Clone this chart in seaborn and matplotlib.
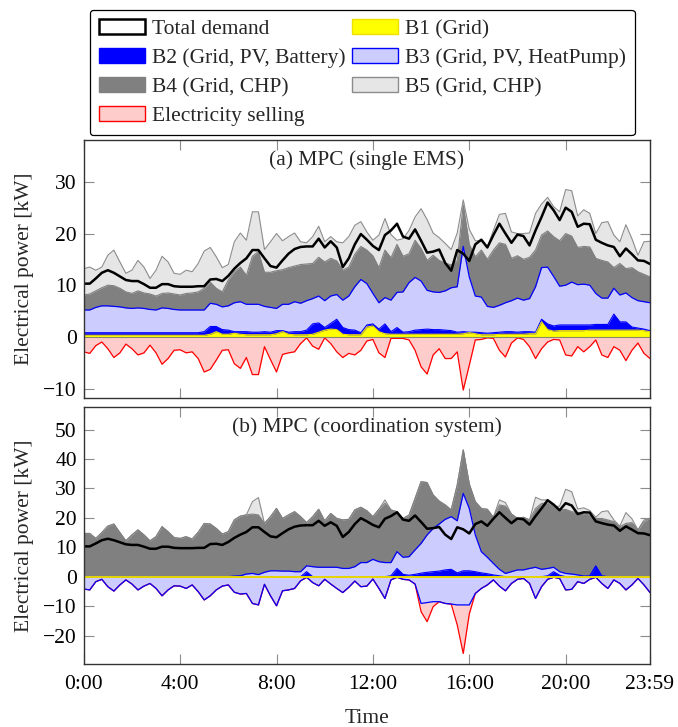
import numpy as np
import matplotlib
matplotlib.use("Agg")
import matplotlib.pyplot as plt
import seaborn as sns
from matplotlib.patches import Patch

# 15-minute steps over one day (index 0..94)
steps = np.arange(95)
tick_pos = [0, 16, 32, 48, 64, 80, 94]
tick_labels = ["0:00", "4:00", "8:00", "12:00", "16:00", "20:00", "23:59"]

total_demand = [
    10.3, 10.3, 11.3, 12.4, 12.9, 12.4, 11.7, 11.0, 10.8, 10.8,
    10.2, 9.5, 9.5, 10.2, 10.2, 9.8, 9.7, 9.7, 9.7, 9.8,
    9.8, 11.1, 11.2, 10.8, 11.8, 13.2, 14.3, 15.2, 16.8, 16.8,
    15.2, 13.7, 13.4, 14.8, 16.1, 17.0, 17.4, 17.5, 17.5, 19.0,
    17.3, 18.5, 17.3, 13.5, 15.2, 17.9, 19.9, 18.8, 17.6, 16.8,
    19.7, 20.6, 21.9, 19.4, 19.0, 20.8, 18.6, 16.3, 16.5, 16.9,
    14.3, 12.8, 16.8, 16.1, 14.7, 17.9, 18.8, 17.3, 19.7, 21.9,
    20.0, 18.2, 19.8, 19.5, 17.7, 20.6, 23.2, 26.0, 24.5, 22.6,
    25.0, 24.2, 21.3, 21.9, 21.8, 18.8, 18.2, 17.7, 17.4, 15.6,
    17.1, 16.0, 14.8, 14.7, 14.1,
]

# (a) single EMS: stacked levels of each area
a_b5_top = [
    13.2, 13.5, 12.9, 13.5, 15.8, 16.8, 14.5, 12.3, 12.9, 14.8,
    13.5, 11.3, 12.9, 15.6, 14.5, 12.3, 12.1, 12.9, 12.6, 14.2,
    16.6, 17.3, 15.5, 13.4, 14.0, 18.4, 20.1, 18.7, 24.2, 24.2,
    16.9, 18.4, 20.0, 18.6, 19.4, 20.1, 18.4, 18.2, 19.4, 21.4,
    18.4, 19.4, 18.4, 18.2, 19.4, 21.6, 22.3, 20.3, 18.7, 19.7,
    22.9, 19.8, 18.7, 19.0, 20.6, 23.2, 24.8, 22.7, 20.1, 19.2,
    18.1, 16.9, 20.1, 26.5, 20.8, 18.6, 18.6, 17.4, 20.6, 23.7,
    23.9, 20.3, 20.0, 20.0, 20.1, 23.9, 25.7, 27.0, 25.2, 24.2,
    28.5, 28.3, 23.4, 24.6, 23.9, 20.0, 22.1, 22.3, 19.7, 18.4,
    21.7, 19.0, 15.8, 18.4, 18.5,
]
a_b4_top = [
    8.1, 8.3, 8.9, 9.5, 10.0, 9.9, 9.4, 8.7, 8.4, 8.9,
    8.5, 8.3, 7.9, 8.4, 8.5, 8.3, 8.1, 8.4, 8.5, 8.7,
    9.4, 10.6, 9.4, 8.7, 11.0, 12.6, 13.5, 11.9, 15.6, 16.5,
    12.5, 12.5, 12.8, 13.0, 13.4, 13.7, 14.0, 14.1, 14.2, 15.4,
    14.5, 15.2, 14.7, 12.9, 13.5, 16.0, 17.5, 16.8, 15.7, 13.4,
    16.8, 15.3, 17.9, 15.6, 16.1, 18.7, 17.1, 14.8, 15.8, 14.8,
    14.3, 13.9, 14.8, 25.5, 17.9, 15.5, 16.8, 15.0, 16.8, 18.2,
    17.9, 15.2, 15.7, 15.0, 15.4, 16.8, 19.7, 20.5, 19.4, 18.6,
    20.0, 19.5, 17.3, 17.5, 17.4, 15.2, 14.8, 14.5, 13.4, 14.2,
    13.2, 13.4, 12.6, 12.1, 11.6,
]
a_b3_top = [
    5.2, 5.2, 5.7, 6.0, 6.0, 5.9, 5.8, 5.6, 5.5, 5.6,
    5.5, 5.3, 5.2, 5.6, 5.5, 5.3, 5.2, 5.2, 5.2, 5.2,
    5.2, 6.5, 6.3, 5.8, 6.0, 6.6, 6.8, 6.3, 6.3, 6.3,
    5.9, 5.7, 5.5, 6.3, 6.3, 6.8, 6.5, 7.0, 7.4, 7.9,
    7.0, 7.9, 8.2, 7.1, 7.9, 9.7, 11.1, 10.3, 8.4, 6.6,
    7.6, 7.1, 8.6, 8.7, 10.5, 11.5, 10.8, 9.0, 8.7, 8.6,
    8.9, 9.5, 9.7, 17.5, 11.6, 7.9, 7.7, 5.9, 5.7, 6.1,
    6.6, 7.0, 7.5, 7.1, 7.4, 9.7, 13.4, 13.5, 11.7, 9.8,
    10.0, 10.6, 10.1, 10.2, 10.0, 8.4, 7.5, 7.5, 9.4, 8.1,
    8.5, 7.6, 7.0, 6.8, 6.6,
]
a_b2_top = [
    0.8, 0.8, 0.8, 0.8, 0.8, 0.8, 0.8, 0.8, 0.8, 0.8,
    0.8, 0.8, 0.8, 0.8, 0.8, 0.8, 0.8, 0.8, 0.8, 0.8,
    1.0, 2.0, 2.0, 1.4, 1.3, 1.0, 1.0, 1.0, 0.9, 0.9,
    1.0, 0.9, 1.2, 1.2, 0.9, 1.0, 1.0, 1.3, 2.5, 2.7,
    1.8, 2.6, 3.4, 1.8, 1.4, 1.3, 0.8, 2.3, 2.5, 1.5,
    2.5, 1.0, 1.8, 0.9, 1.0, 1.3, 1.4, 1.5, 1.4, 1.4,
    1.3, 1.2, 0.9, 1.0, 0.9, 0.9, 0.8, 0.7, 0.8, 0.9,
    1.0, 1.0, 0.9, 1.0, 1.0, 0.9, 3.4, 2.5, 2.1, 2.3,
    2.3, 2.3, 2.3, 2.3, 2.3, 2.4, 2.4, 2.4, 4.4, 2.9,
    2.9, 1.9, 1.7, 1.5, 1.2,
]
a_b1_top = [
    0.3, 0.3, 0.3, 0.3, 0.3, 0.3, 0.3, 0.3, 0.3, 0.3,
    0.3, 0.3, 0.3, 0.3, 0.3, 0.3, 0.3, 0.3, 0.3, 0.3,
    0.3, 0.5, 1.0, 0.5, 0.5, 0.7, 0.5, 0.4, 0.4, 0.4,
    0.4, 0.4, 0.6, 1.0, 0.5, 0.4, 0.4, 0.4, 0.5, 0.9,
    1.3, 1.5, 1.4, 0.5, 0.4, 0.4, 0.4, 1.9, 2.1, 1.0,
    0.6, 0.5, 0.5, 0.5, 0.5, 0.5, 0.5, 0.5, 0.5, 0.5,
    0.5, 0.5, 0.5, 0.6, 0.8, 0.6, 0.4, 0.4, 0.4, 0.5,
    0.5, 0.5, 0.5, 0.5, 0.6, 0.6, 2.9, 1.4, 1.1, 1.2,
    1.2, 1.2, 1.2, 1.2, 1.3, 1.3, 1.3, 1.3, 1.3, 1.3,
    1.3, 1.3, 1.3, 1.2, 1.0,
]
a_selling = [
    -2.9, -3.2, -1.7, -1.0, -2.3, -4.0, -3.1, -1.4, -2.3, -3.5,
    -3.1, -1.6, -3.1, -5.3, -4.2, -2.6, -2.5, -3.1, -2.9, -4.2,
    -6.8, -6.3, -4.5, -2.6, -2.5, -5.2, -6.1, -4.0, -7.3, -7.3,
    -1.9, -4.4, -6.8, -3.4, -3.1, -2.9, -1.3, -0.2, -1.8, -2.4,
    -0.2, -1.3, -2.9, -4.0, -3.2, -3.5, -2.6, -0.8, -0.5, -3.1,
    -4.0, -0.3, -0.3, -0.3, -0.6, -2.6, -5.8, -7.2, -3.5, -2.3,
    -4.2, -4.2, -2.9, -10.3, -5.5, -0.6, -0.5, -0.2, -0.3, -2.6,
    -3.9, -1.2, -0.2, -0.5, -1.9, -4.2, -2.3, -1.0, -0.5, -0.6,
    -3.5, -3.7, -1.9, -2.9, -1.9, -0.6, -3.5, -4.0, -1.9, -2.6,
    -4.6, -2.6, -1.2, -3.2, -4.2,
]

# (b) coordination system
b_b5_top = [
    14.7, 14.7, 13.0, 15.0, 17.2, 17.9, 15.0, 12.2, 14.2, 15.9,
    14.2, 12.2, 13.6, 17.0, 15.3, 13.3, 13.0, 13.6, 12.8, 15.1,
    18.1, 17.9, 16.4, 14.5, 15.3, 19.3, 20.6, 21.0, 25.5, 26.9,
    18.1, 20.4, 23.2, 19.8, 21.0, 22.1, 20.4, 18.4, 20.4, 22.9,
    19.0, 21.5, 19.8, 19.3, 19.5, 22.7, 23.6, 22.4, 20.4, 22.9,
    26.1, 22.7, 22.1, 19.8, 20.9, 26.6, 32.3, 32.0, 27.8, 25.7,
    24.4, 22.7, 31.2, 43.1, 31.5, 25.5, 23.2, 22.9, 20.2, 26.1,
    25.2, 21.3, 19.8, 20.2, 19.3, 27.0, 26.1, 26.1, 23.8, 24.0,
    29.7, 28.9, 23.0, 23.4, 22.5, 20.2, 22.1, 22.4, 19.3, 17.2,
    21.8, 19.7, 15.9, 19.3, 19.8,
]
b_b4_top = [
    14.7, 14.7, 13.0, 15.0, 17.2, 17.9, 15.0, 12.2, 14.2, 15.9,
    14.2, 12.2, 13.6, 17.0, 15.3, 13.3, 13.0, 13.6, 12.8, 15.1,
    18.1, 17.9, 16.4, 14.5, 15.3, 19.3, 20.6, 21.0, 21.3, 21.0,
    18.1, 20.4, 23.2, 19.8, 21.0, 22.1, 20.4, 18.4, 20.4, 22.9,
    19.0, 21.5, 19.8, 19.3, 19.5, 22.7, 23.6, 22.4, 20.4, 22.9,
    25.0, 22.7, 22.1, 19.8, 20.9, 26.6, 32.3, 32.0, 27.8, 25.7,
    24.4, 22.7, 31.2, 43.1, 31.5, 25.5, 23.2, 22.9, 20.2, 24.4,
    24.0, 21.3, 19.8, 20.2, 19.3, 23.2, 24.9, 25.1, 23.6, 22.7,
    22.9, 22.1, 21.8, 21.3, 21.0, 19.8, 19.8, 19.3, 18.7, 17.0,
    18.1, 18.4, 15.9, 18.7, 19.8,
]
b_b3_top = [
    0.0, 0.0, 0.0, 0.0, 0.0, 0.0, 0.0, 0.0, 0.0, 0.0,
    0.0, 0.0, 0.0, 0.0, 0.0, 0.0, 0.0, 0.0, 0.0, 0.0,
    0.0, 0.0, 0.0, 0.0, 0.0, 0.2, 0.3, 0.9, 1.1, 0.7,
    1.5, 2.0, 2.0, 1.9, 1.9, 1.7, 1.7, 3.7, 3.4, 3.2,
    3.2, 3.2, 3.2, 2.8, 2.8, 3.4, 4.8, 4.8, 5.9, 5.1,
    4.8, 4.8, 8.5, 6.6, 6.8, 9.1, 11.3, 14.2, 16.4, 17.9,
    19.5, 20.4, 19.0, 28.3, 23.2, 14.2, 8.5, 6.6, 4.5, 2.5,
    1.1, 1.7, 2.3, 2.3, 2.8, 3.2, 2.5, 2.8, 3.2, 1.7,
    1.1, 0.9, 0.6, 0.2, 0.2, 3.6, 0.2, 0.0, 0.0, 0.0,
    0.0, 0.0, 0.0, 0.0, 0.0,
]
b_b2_top = [
    0.0, 0.0, 0.0, 0.0, 0.0, 0.0, 0.0, 0.0, 0.0, 0.0,
    0.0, 0.0, 0.0, 0.0, 0.0, 0.0, 0.0, 0.0, 0.0, 0.0,
    0.0, 0.0, 0.0, 0.0, 0.0, 0.0, 0.0, 0.0, 0.0, 0.0,
    0.0, 0.0, 0.0, 0.0, 0.0, 0.0, 0.0, 1.7, 0.0, 0.0,
    0.0, 0.0, 0.0, 0.0, 0.0, 0.0, 0.0, 0.0, 0.0, 0.0,
    0.0, 0.3, 2.8, 0.8, 0.5, 0.8, 1.2, 1.5, 1.7, 1.9,
    2.3, 2.5, 1.3, 2.0, 2.0, 1.7, 1.3, 1.0, 0.6, 0.3,
    0.0, 0.0, 0.0, 0.0, 0.0, 0.0, 0.0, 0.3, 1.7, 0.5,
    0.0, 0.0, 0.0, 0.0, 0.2, 3.6, 0.2, 0.0, 0.0, 0.0,
    0.0, 0.0, 0.0, 0.0, 0.0,
]
b_b1_top = [0.0] * 95
b_b3_export = [
    -4.2, -4.5, -1.7, -0.9, -3.4, -4.9, -2.8, -1.1, -2.5, -4.5,
    -3.2, -2.3, -4.0, -6.5, -4.5, -3.1, -3.2, -4.0, -2.8, -5.1,
    -7.9, -6.5, -4.5, -3.2, -2.8, -5.3, -5.9, -5.7, -9.1, -9.6,
    -2.6, -6.5, -9.9, -4.8, -4.5, -4.0, -1.4, -0.2, -2.0, -3.1,
    -0.9, -2.5, -4.0, -5.4, -3.6, -1.5, -3.4, -3.2, -0.8, -4.0,
    -7.4, -1.1, -0.2, -0.9, -1.1, -2.5, -9.1, -8.8, -8.5, -8.5,
    -9.1, -9.3, -9.6, -9.6, -9.6, -5.7, -4.0, -2.8, -1.1, -3.2,
    -4.8, -2.3, -0.9, -0.6, -2.3, -7.4, -3.4, -0.9, -0.2, -0.6,
    -4.5, -4.3, -1.7, -2.3, -0.9, -0.2, -2.3, -4.0, -1.1, -2.3,
    -4.5, -2.8, -0.6, -2.8, -5.4,
]
b_selling = [
    -4.2, -4.5, -1.7, -0.9, -3.4, -4.9, -2.8, -1.1, -2.5, -4.5,
    -3.2, -2.3, -4.0, -6.5, -4.5, -3.1, -3.2, -4.0, -2.8, -5.1,
    -7.9, -6.5, -4.5, -3.2, -2.8, -5.3, -5.9, -5.7, -9.1, -9.6,
    -2.6, -6.5, -9.9, -4.8, -4.5, -4.0, -1.4, -0.2, -2.0, -3.1,
    -0.9, -2.5, -4.0, -5.4, -3.6, -1.5, -3.4, -3.2, -0.8, -4.0,
    -7.4, -1.1, -0.2, -0.9, -1.1, -2.5, -11.9, -15.3, -10.2, -8.5,
    -9.1, -9.3, -16.4, -26.1, -12.7, -5.7, -4.0, -2.8, -1.1, -3.2,
    -4.8, -2.3, -0.9, -0.6, -2.3, -7.4, -3.4, -0.9, -0.2, -0.6,
    -4.5, -4.3, -1.7, -2.3, -0.9, -0.2, -2.3, -4.0, -1.1, -2.3,
    -4.5, -2.8, -0.6, -2.8, -5.4,
]

C_B1, C_B1_EDGE = "#ffff00", "#f0e000"
C_B2 = "#0000ff"
C_B3 = "#ccccff"
C_B4 = "#808080"
C_B5, C_B5_EDGE = "#e6e6e6", "#8c8c8c"
C_SELL = "#ffcccc"
FS = 15.5

sns.set_theme(style="ticks")
plt.rcParams["font.family"] = ["Liberation Serif", "DejaVu Serif"]
plt.rcParams["font.size"] = FS
plt.rcParams["axes.unicode_minus"] = True

fig = plt.figure(figsize=(6.78, 7.27), dpi=100)
ax_a = fig.add_axes([0.1235, 0.4521, 0.8352, 0.3553])
ax_b = fig.add_axes([0.1235, 0.0862, 0.8352, 0.3544])


def area(ax, top, face, edge, lw=0.8):
    ax.fill_between(steps, 0, top, color=face, linewidth=0)
    ax.plot(steps, top, color=edge, linewidth=lw)


# panel (a)
area(ax_a, a_b5_top, C_B5, C_B5_EDGE)
area(ax_a, a_b4_top, C_B4, C_B4)
area(ax_a, a_b3_top, C_B3, C_B2, 0.9)
area(ax_a, a_b2_top, C_B2, C_B2)
area(ax_a, a_b1_top, C_B1, C_B1_EDGE)
area(ax_a, a_selling, C_SELL, "#ff0000", 0.9)
ax_a.axhline(0, color="#8a8a6a", linewidth=0.8)
sns.lineplot(x=steps, y=total_demand, ax=ax_a, color="black", linewidth=1.8)

# panel (b)
area(ax_b, b_b5_top, C_B5, C_B5_EDGE)
area(ax_b, b_b4_top, C_B4, C_B4)
area(ax_b, np.maximum(b_b3_top, b_b2_top), C_B3, C_B2, 0.9)
area(ax_b, b_b2_top, C_B2, C_B2)
area(ax_b, b_selling, C_SELL, "#ff0000", 0.9)
area(ax_b, b_b3_export, C_B3, C_B2, 0.9)
ax_b.plot(steps, b_b1_top, color="#e8d800", linewidth=1.4)
sns.lineplot(x=steps, y=total_demand, ax=ax_b, color="black", linewidth=1.8)

panels = [
    (ax_a, (-11.9, 38.1), [-10, 0, 10, 20, 30], "(a) MPC (single EMS)"),
    (ax_b, (-29.8, 57.8), [-20, -10, 0, 10, 20, 30, 40, 50], "(b) MPC (coordination system)"),
]
for ax, ylim, yt, title in panels:
    ax.set_xlim(0, 94)
    ax.set_ylim(*ylim)
    ax.set_yticks(yt)
    ax.set_xticks(tick_pos)
    ax.set_xticklabels(tick_labels)
    ax.tick_params(direction="in", length=7, width=0.8, color="#8c8c8c",
                   top=True, right=True, labelsize=FS, labelcolor="black")
    ax.tick_params(axis="y", pad=5)
    ax.tick_params(axis="x", pad=7.5)
    for sp in ax.spines.values():
        sp.set_color("#333333")
        sp.set_linewidth(1.0)
    ax.set_ylabel("Electrical power [kW]", fontsize=FS)
    ax.yaxis.set_label_coords(-0.087, 0.5)
    ax.text(0.5, 0.922, title, transform=ax.transAxes, ha="center", va="center",
            fontsize=FS)
    ax.set_xlabel("")

ax_a.tick_params(labelbottom=False)
ax_b.set_xlabel("Time", fontsize=FS, labelpad=11)

handles = [
    Patch(facecolor="white", edgecolor="black", linewidth=1.8),
    Patch(facecolor=C_B2, edgecolor=C_B2),
    Patch(facecolor=C_B4, edgecolor=C_B4),
    Patch(facecolor=C_SELL, edgecolor="#ff0000"),
    Patch(facecolor=C_B1, edgecolor=C_B1_EDGE),
    Patch(facecolor=C_B3, edgecolor=C_B2),
    Patch(facecolor=C_B5, edgecolor=C_B5_EDGE),
]
labels = [
    "Total demand", "B2 (Grid, PV, Battery)", "B4 (Grid, CHP)", "Electricity selling",
    "B1 (Grid)", "B3 (Grid, PV, HeatPump)", "B5 (Grid, CHP)",
]
leg = fig.legend(handles, labels, ncol=2, loc="upper left",
                 bbox_to_anchor=(90 / 678, 1 - 10 / 727), fontsize=FS,
                 handlelength=2.15, handleheight=0.7, handletextpad=0.3,
                 columnspacing=0.3, labelspacing=0.42, borderpad=0.42,
                 borderaxespad=0, frameon=True, fancybox=True)
frame = leg.get_frame()
frame.set_edgecolor("black")
frame.set_linewidth(0.9)
frame.set_alpha(1)
frame.set_boxstyle("round", pad=0, rounding_size=0.15)

fig.savefig("out.png", dpi=100)
plt.close(fig)
